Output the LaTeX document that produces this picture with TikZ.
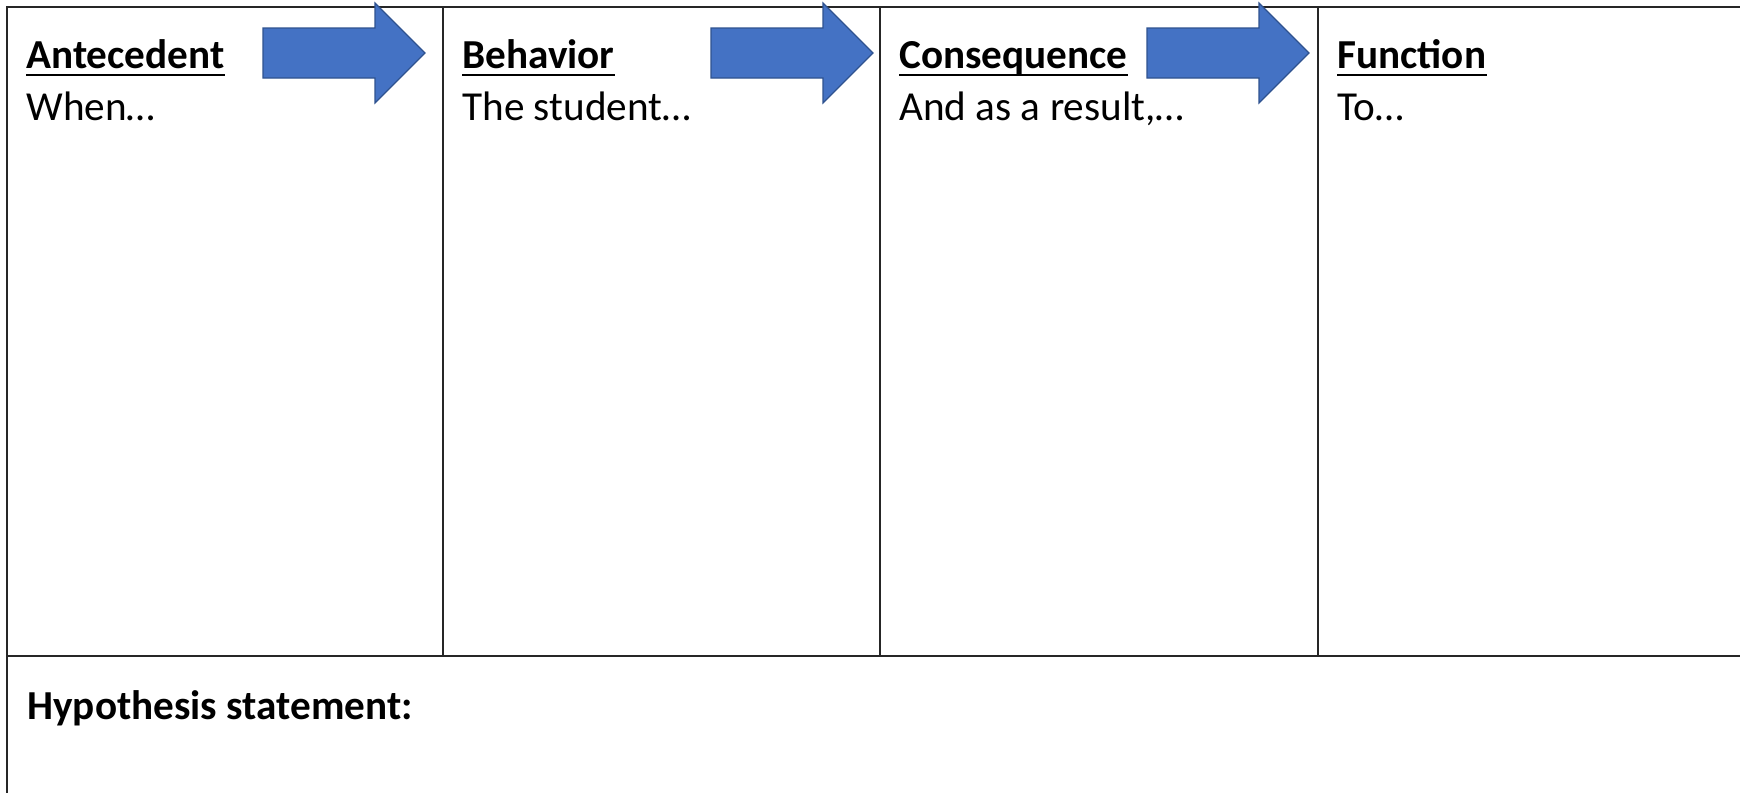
\documentclass[tikz,border=0pt]{standalone}
\usepackage{fontspec}
\setmainfont{Carlito}
\definecolor{arrowblue}{HTML}{4472C4}
\definecolor{arrowedge}{HTML}{2F528F}
\definecolor{rulecol}{HTML}{262626}
\begin{document}
\begin{tikzpicture}[x=0.5pt,y=-0.5pt,
  grid/.style={draw=rulecol, line width=1pt},
  headtxt/.style={anchor=base west, inner sep=0pt, font=\fontsize{20.6}{24}\selectfont\bfseries},
  bodytxt/.style={anchor=base west, inner sep=0pt, font=\fontsize{20.6}{24}\selectfont},
  uline/.style={draw=black, line width=1pt},
  blockarrow/.style={fill=arrowblue, draw=arrowedge, line width=0.6pt, line join=miter}]
\useasboundingbox (0,0) rectangle (1740,793);
\fill[white] (0,0) rectangle (1740,793);
% table grid
\draw[grid] (1740,7) -- (7,7) -- (7,793);
\draw[grid] (7,656) -- (1740,656);
\foreach \x in {443,880,1318} \draw[grid] (\x,7) -- (\x,656);
% headings
\node[headtxt] (h1) at (26,68) {Antecedent};
\node[headtxt] (h2) at (462,68) {Behavior};
\node[headtxt] (h3) at (899,68) {Consequence};
\node[headtxt] (h4) at (1337,68) {Function};
\foreach \n in {h1,h2,h3,h4}
  \draw[uline] ([yshift=-3.5pt]\n.base west) -- ([yshift=-3.5pt]\n.base east);
% body texts
\node[bodytxt] (b1) at (26,120) {When…};
\node[bodytxt] (b2) at (462,120) {The student…};
\node[bodytxt] (b3) at (899,120) {And as a result,…};
\node[bodytxt] (b4) at (1337,120) {To…};
% hypothesis
\node[headtxt] (hyp) at (27,719) {Hypothesis statement:};
% block arrows
\foreach \x in {263,711,1147}
  \draw[blockarrow] (\x,28) -- ++(112,0) -- ++(0,-25) -- ++(50,50) -- ++(-50,50) -- ++(0,-25) -- ++(-112,0) -- cycle;
\end{tikzpicture}
\end{document}
